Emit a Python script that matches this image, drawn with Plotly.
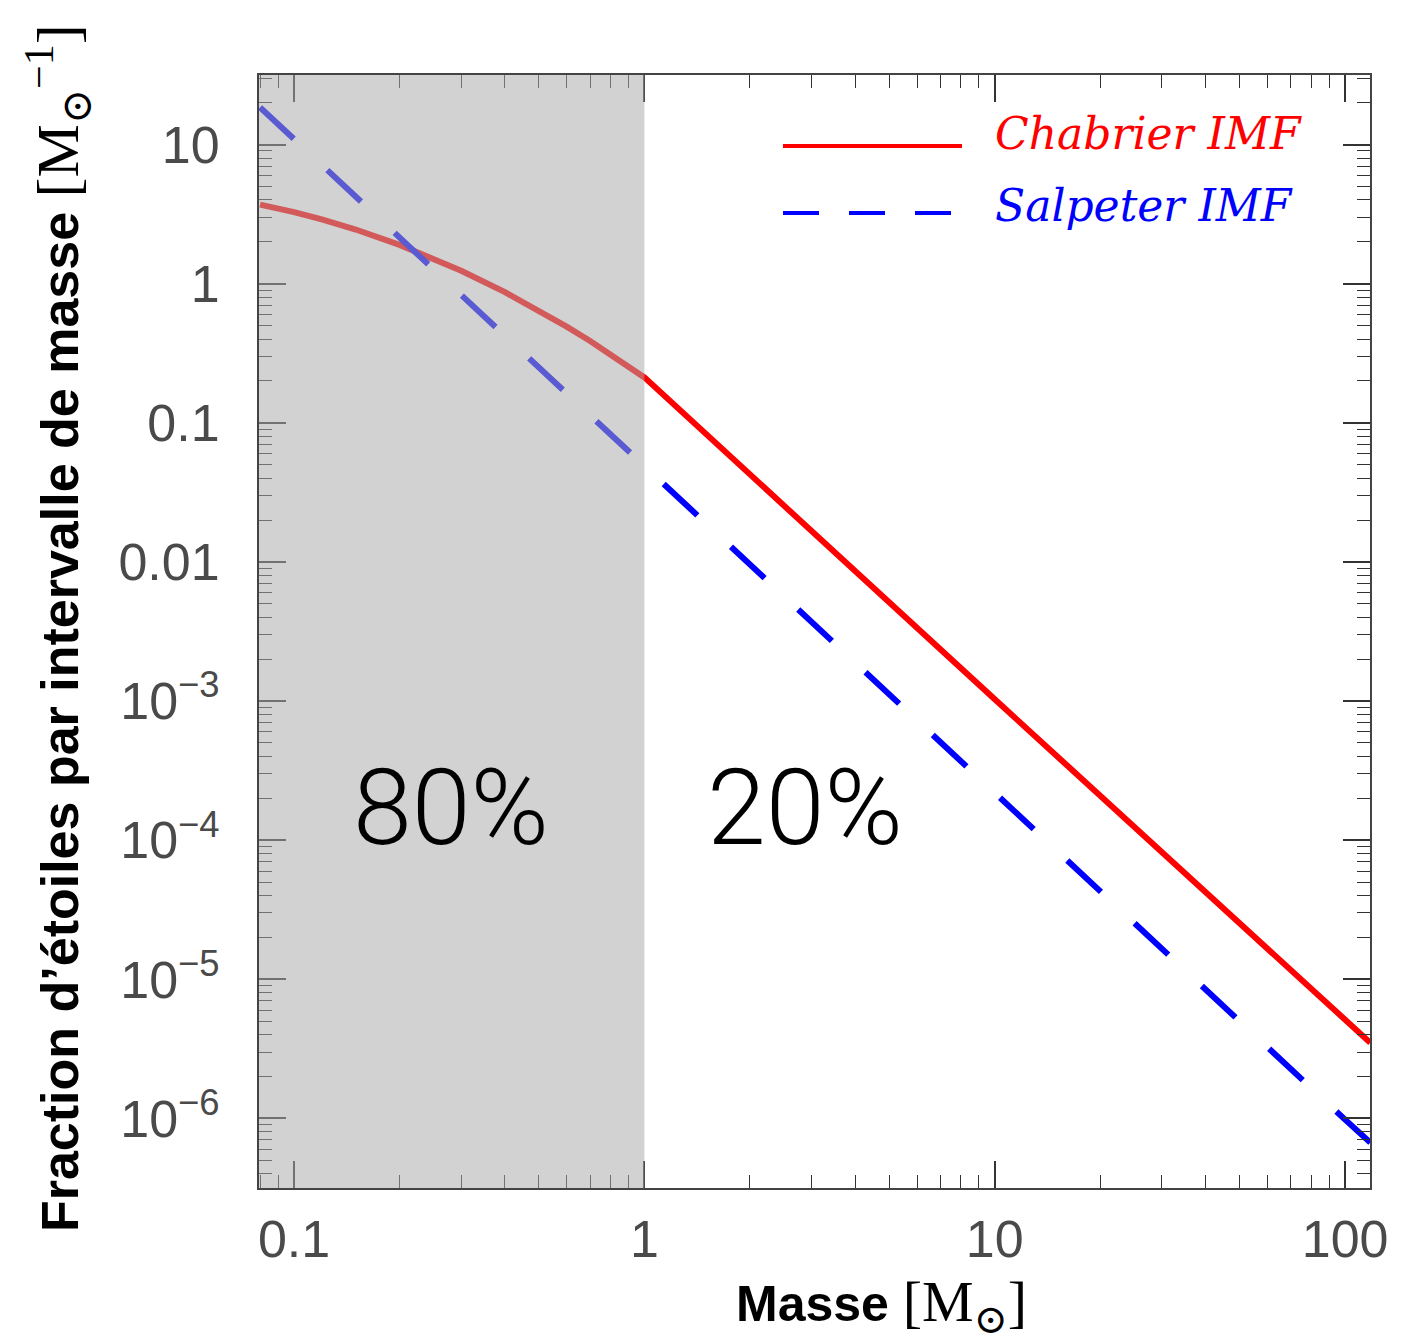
import math
import plotly.graph_objects as go

# ---- data ----
chabrier_mass = [0.080, 0.090, 0.100, 0.120, 0.150, 0.200, 0.250, 0.300, 0.400, 0.500,
                 0.600, 0.700, 0.800, 0.900, 1.0, 10.0, 100.0, 118.0]
chabrier_frac = [3.70, 3.48, 3.27, 2.90, 2.45, 1.90, 1.52, 1.24, 0.869, 0.641,
                 0.491, 0.387, 0.311, 0.255, 0.212, 1.03e-3, 5.0e-6, 3.5e-6]

salpeter_mass = [0.080, 1.0, 10.0, 100.0, 118.0]
salpeter_frac = [18.5, 0.0485, 2.18e-4, 9.8e-7, 6.7e-7]

x_tickvals = [0.1, 1, 10, 100]
x_ticktext = ["0.1", "1", "10", "100"]
y_tickvals = [10, 1, 0.1, 0.01, 1e-3, 1e-4, 1e-5, 1e-6]
y_ticktext = ["10", "1", "0.1", "0.01", "10<sup>−3</sup>", "10<sup>−4</sup>",
              "10<sup>−5</sup>", "10<sup>−6</sup>"]

split_mass = 1.0            # boundary of shaded (low-mass) region
x_min_mass = 10 ** -1.1
pct_labels = ["80%", "20%"]
pct_mass = [0.281, 2.88]
pct_level = [10 ** -3.77, 10 ** -3.77]

RED = "#ff0000"
BLUE = "#0000ff"

fig = go.Figure()
fig.add_trace(go.Scatter(x=chabrier_mass, y=chabrier_frac, mode="lines",
                         line=dict(color=RED, width=6),
                         name="Chabrier IMF", showlegend=False))
fig.add_trace(go.Scatter(x=salpeter_mass, y=salpeter_frac, mode="lines",
                         line=dict(color=BLUE, width=6, dash="46px,46px"),
                         name="Salpeter IMF", showlegend=False))

# shaded low-mass region (drawn over the curves, semi-transparent)
fig.add_shape(type="rect", xref="x", yref="paper", x0=x_min_mass, x1=split_mass,
              y0=0, y1=1, fillcolor="rgba(170,170,170,0.53)", line_width=0,
              layer="above")

tickfont = dict(family="Liberation Sans, Arial, sans-serif", size=52, color="#4a4a4a")
axis_common = dict(type="log", showline=True, linecolor="#444", linewidth=2,
                   mirror="allticks", ticks="inside", ticklen=27, tickwidth=1.6,
                   tickcolor="#333", showgrid=False, zeroline=False,
                   tickfont=tickfont,
                   minor=dict(ticks="inside", ticklen=13, tickwidth=1.4,
                              tickcolor="#333", dtick="D1", showgrid=False))

fig.update_xaxes(range=[-1.1, 2.071], tickmode="array", tickvals=x_tickvals,
                 ticktext=x_ticktext, ticklabelstandoff=5, **axis_common)
fig.update_yaxes(range=[-6.5, 1.5], tickmode="array", tickvals=y_tickvals,
                 ticktext=y_ticktext, ticklabelstandoff=27, **axis_common)

# percentage labels
for t, m, v in zip(pct_labels, pct_mass, pct_level):
    fig.add_annotation(x=math.log10(m), y=math.log10(v), xref="x", yref="y",
                       text=t, showarrow=False, xanchor="center", yanchor="middle",
                       font=dict(family="Roboto, Liberation Sans, sans-serif",
                                 size=106, color="black", weight=300))

serif = "font-family:'Liberation Serif', 'DejaVu Serif', serif;font-weight:normal"

# axis titles
fig.add_annotation(xref="paper", yref="paper", x=0.56, y=-0.106,
                   xanchor="center", yanchor="middle", showarrow=False,
                   text=("<b>Masse</b> <span style=\"" + serif + ";font-size:58px\">"
                         "[M<sub>⊙</sub>]</span>"),
                   font=dict(family="Liberation Sans, Arial, sans-serif", size=50,
                             color="black"))
fig.add_annotation(xref="paper", yref="paper", x=-0.181, y=0.503,
                   xanchor="center", yanchor="middle", showarrow=False, textangle=-90,
                   text=("<b>Fraction d’étoiles par intervalle de masse</b> "
                         "<span style=\"" + serif + ";font-size:60px\">"
                         "[M<sub>⊙</sub><sup>−1</sup>]</span>"),
                   font=dict(family="Liberation Sans, Arial, sans-serif", size=52,
                             color="black"))

# legend (drawn manually to match the long line samples)
PW, PH, PL, PB = 1111, 1113, 259, 1188
fig.add_shape(type="line", xref="paper", yref="paper",
              x0=(783 - PL) / PW, x1=(962 - PL) / PW,
              y0=(PB - 146) / PH, y1=(PB - 146) / PH,
              line=dict(color=RED, width=4))
fig.add_shape(type="line", xref="paper", yref="paper",
              x0=(783 - PL) / PW, x1=(955 - PL) / PW,
              y0=(PB - 213) / PH, y1=(PB - 213) / PH,
              line=dict(color=BLUE, width=4, dash="36px,30px"))
fig.add_annotation(xref="paper", yref="paper", x=(993 - PL) / PW,
                   y=(PB - 133) / PH, xanchor="left", yanchor="middle",
                   showarrow=False, text="<i>Chabrier IMF</i>",
                   font=dict(family="DejaVu Serif, serif", size=44, color=RED))
fig.add_annotation(xref="paper", yref="paper", x=(993 - PL) / PW,
                   y=(PB - 205) / PH, xanchor="left", yanchor="middle",
                   showarrow=False, text="<i>Salpeter IMF</i>",
                   font=dict(family="DejaVu Serif, serif", size=44, color=BLUE))

# page has an 8px body margin: shrink the figure so the plot area lands
# at the same pixel positions as the reference
fig.update_layout(width=1400, height=1335,
                  margin=dict(l=251, r=38, t=67, b=155),
                  plot_bgcolor="white", paper_bgcolor="white",
                  showlegend=False)

fig.write_html("out.html")
